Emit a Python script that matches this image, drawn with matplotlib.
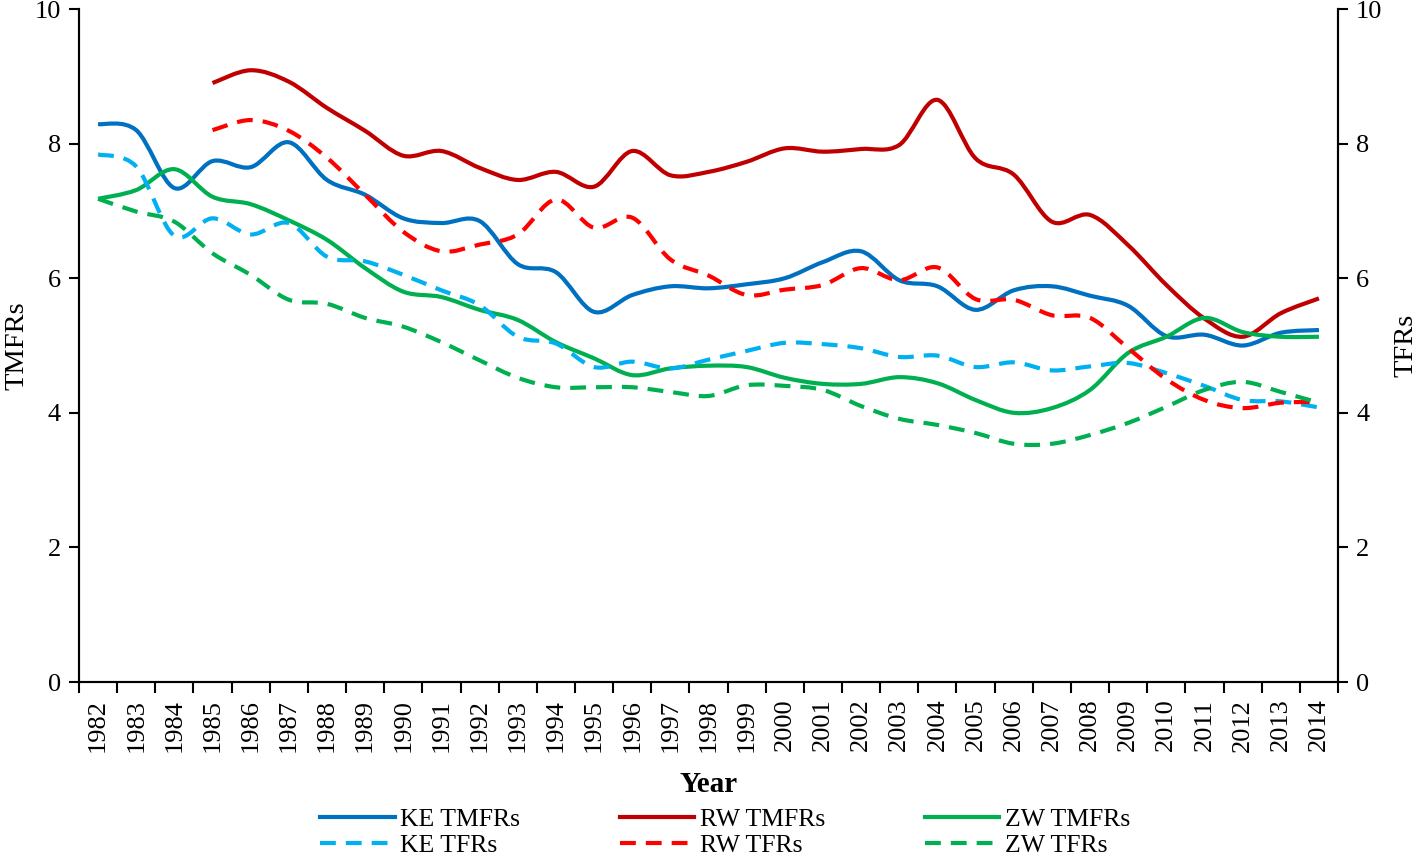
import numpy as np
import matplotlib
matplotlib.use("Agg")
import matplotlib.pyplot as plt
from matplotlib.path import Path
from matplotlib.patches import PathPatch
from matplotlib.lines import Line2D

years = list(range(1982, 2015))

ke_tmfr = [8.29, 8.2, 7.34, 7.74, 7.65, 8.02, 7.46, 7.24, 6.89, 6.82, 6.85, 6.21, 6.09,
           5.5, 5.75, 5.88, 5.85, 5.91, 6.0, 6.24, 6.4, 5.97, 5.88, 5.53, 5.82, 5.88,
           5.74, 5.59, 5.14, 5.16, 5.0, 5.19, 5.23]
rw_tmfr = [None, None, None, 8.9, 9.09, 8.92, 8.53, 8.19, 7.82, 7.89, 7.64, 7.46, 7.58,
           7.36, 7.89, 7.53, 7.58, 7.73, 7.93, 7.88, 7.92, 7.98, 8.65, 7.78, 7.54, 6.84,
           6.94, 6.49, 5.9, 5.4, 5.13, 5.48, 5.7]
zw_tmfr = [7.18, 7.31, 7.62, 7.21, 7.1, 6.86, 6.57, 6.15, 5.8, 5.72, 5.53, 5.38, 5.05,
           4.81, 4.56, 4.66, 4.7, 4.68, 4.52, 4.43, 4.43, 4.53, 4.44, 4.19, 4.0, 4.07,
           4.34, 4.89, 5.13, 5.41, 5.2, 5.13, 5.13]
ke_tfr = [7.84, 7.66, 6.63, 6.89, 6.65, 6.82, 6.32, 6.25, 6.05, 5.82, 5.6, 5.13, 5.03,
          4.68, 4.76, 4.66, 4.79, 4.92, 5.04, 5.02, 4.96, 4.83, 4.85, 4.68, 4.75, 4.63,
          4.69, 4.74, 4.59, 4.4, 4.19, 4.17, 4.08]
rw_tfr = [None, None, None, 8.2, 8.35, 8.19, 7.79, 7.24, 6.69, 6.4, 6.5, 6.65, 7.17,
          6.75, 6.9, 6.28, 6.04, 5.75, 5.83, 5.9, 6.15, 5.97, 6.16, 5.69, 5.68, 5.45,
          5.41, 4.96, 4.5, 4.19, 4.07, 4.15, 4.16]
zw_tfr = [7.18, 6.99, 6.84, 6.37, 6.05, 5.68, 5.62, 5.41, 5.28, 5.05, 4.78, 4.52, 4.38,
          4.38, 4.38, 4.31, 4.25, 4.41, 4.4, 4.34, 4.1, 3.91, 3.82, 3.7, 3.54, 3.54,
          3.67, 3.85, 4.09, 4.34, 4.46, 4.31, 4.15]

plt.rcParams['font.family'] = ['Liberation Serif', 'DejaVu Serif']


def smooth_path(xs, ys):
    # Excel-style smoothed line: cubic bezier through every point
    pts = [(x, y) for x, y in zip(xs, ys) if y is not None]
    p = np.array(pts, dtype=float)
    n = len(p)
    verts = [p[0]]
    codes = [Path.MOVETO]
    for i in range(n - 1):
        p0 = p[i - 1] if i > 0 else p[i]
        p3 = p[i + 2] if i + 2 < n else p[i + 1]
        c1 = p[i] + (p[i + 1] - p0) / 6
        c2 = p[i + 1] - (p3 - p[i]) / 6
        verts += [c1, c2, p[i + 1]]
        codes += [Path.CURVE4] * 3
    return Path(verts, codes)


fig = plt.figure(figsize=(14.18, 8.58), dpi=100)
ax = fig.add_axes([0.0557, 0.2051, 0.8879, 0.7844])
ax2 = ax.twinx()

x = np.arange(len(years))
dash = (0, (3.8, 2.4))
series = [
    (ax, ke_tmfr, "#0070C0", "-", "KE TMFRs"),
    (ax2, ke_tfr, "#00B0F0", dash, "KE TFRs"),
    (ax, rw_tmfr, "#C00000", "-", "RW TMFRs"),
    (ax2, rw_tfr, "#FF0000", dash, "RW TFRs"),
    (ax, zw_tmfr, "#00B050", "-", "ZW TMFRs"),
    (ax2, zw_tfr, "#00B050", dash, "ZW TFRs"),
]
handles = []
for a, vals, col, ls, name in series:
    a.add_patch(PathPatch(smooth_path(x, vals), facecolor="none", edgecolor=col,
                          lw=3, linestyle=ls, capstyle="butt"))
    handles.append(Line2D([], [], color=col, lw=3, linestyle=ls, label=name))

for a in (ax, ax2):
    a.set_xlim(-0.5, len(years) - 0.5)
    a.set_ylim(0, 10)
    a.set_yticks([0, 2, 4, 6, 8, 10])
    a.tick_params(axis="y", direction="out", length=7, width=1.5, labelsize=19, pad=6)
    a.spines["top"].set_visible(False)
    for s in a.spines.values():
        s.set_linewidth(1.5)

ax.set_xticks(x)
ax.set_xticklabels([str(y) for y in years], rotation=90, fontsize=19)
ax.set_xticks(np.arange(len(years) + 1) - 0.5, minor=True)
ax.tick_params(axis="x", which="major", length=0, pad=12)
ax.tick_params(axis="x", which="minor", direction="out", length=8, width=1.5)

ax.set_ylabel("TMFRs", fontsize=20.5, labelpad=4)
ax2.set_ylabel("TFRs", fontsize=20.5, labelpad=8)
ax.set_xlabel("Year", fontsize=21, fontweight="bold", labelpad=14)

fig.legend(handles=handles, loc="upper left", bbox_to_anchor=(320 / 1418, 1 - 808 / 858),
           ncol=3, frameon=False, fontsize=18.5, handlelength=2.9, handletextpad=0.2,
           columnspacing=3.9, labelspacing=0.1, borderpad=0, borderaxespad=0)

fig.savefig("out.png", dpi=100)
